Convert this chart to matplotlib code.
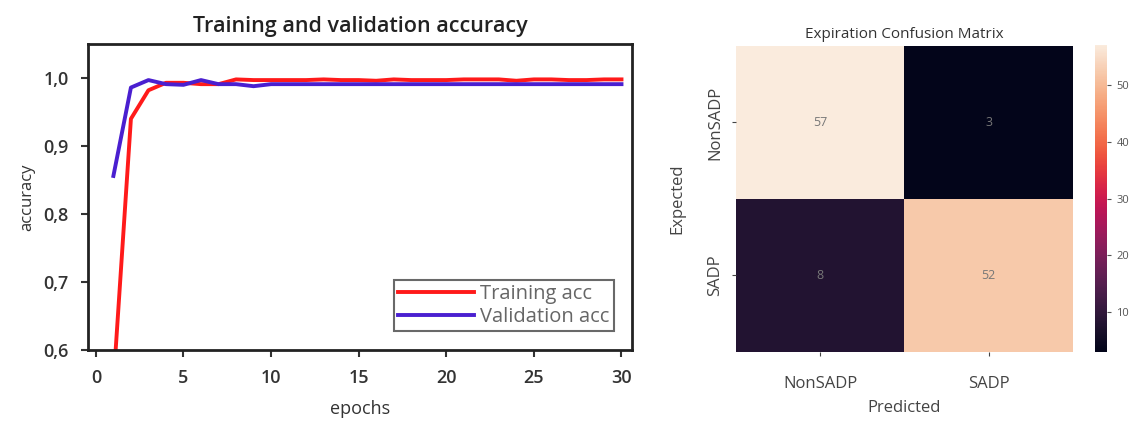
import numpy as np
import matplotlib
matplotlib.use("Agg")
import matplotlib.pyplot as plt
import seaborn as sns

# Datos del historial de entrenamiento
epochs = list(range(1, 31))
train_acc = [0.55, 0.940, 0.982, 0.993, 0.993, 0.991, 0.991, 0.998, 0.997, 0.997,
             0.997, 0.997, 0.998, 0.997, 0.997, 0.996, 0.998, 0.997, 0.997, 0.997,
             0.998, 0.998, 0.998, 0.996, 0.998, 0.998, 0.997, 0.997, 0.998, 0.998]
val_acc = [0.856, 0.986, 0.997, 0.991, 0.990, 0.997, 0.991, 0.991, 0.988, 0.991,
           0.991, 0.991, 0.991, 0.991, 0.991, 0.991, 0.991, 0.991, 0.991, 0.991,
           0.991, 0.991, 0.991, 0.991, 0.991, 0.991, 0.991, 0.991, 0.991, 0.991]

# Matriz de confusión
clases = ["NonSADP", "SADP"]
matriz = np.array([[57, 3],
                   [8, 52]])

fig = plt.figure(figsize=(11.31, 4.21), dpi=100)
plt.rcParams['font.family'] = ['Open Sans', 'DejaVu Sans']

# Curvas de precisión
ax1 = fig.add_axes([0.0778, 0.1686, 0.481, 0.7268])
ax1.plot(epochs, train_acc, color='#ff1a1a', lw=2.8, label='Training acc')
ax1.plot(epochs, val_acc, color='#4a1fd0', lw=2.8, label='Validation acc')
ax1.set_xlim(-0.45, 30.6)
ax1.set_ylim(0.6, 1.05)
ax1.set_xticks([0, 5, 10, 15, 20, 25, 30])
ax1.set_yticks([0.6, 0.7, 0.8, 0.9, 1.0])
ax1.set_yticklabels(['0,6', '0,7', '0,8', '0,9', '1,0'])
ax1.tick_params(labelsize=13, colors='#333333', width=1.5, length=5)
ax1.tick_params(axis='x', pad=9)
ax1.tick_params(axis='y', pad=9)
for lbl in ax1.get_xticklabels() + ax1.get_yticklabels():
    lbl.set_fontweight('semibold')
for s in ax1.spines.values():
    s.set_linewidth(2)
    s.set_color('#222222')
ax1.set_title('Training and validation accuracy', fontsize=15.5, fontweight='semibold',
              color='#222222', pad=9)
ax1.set_xlabel('epochs', fontsize=13, color='#333333', labelpad=9)
ax1.set_ylabel('accuracy', fontsize=12, color='#333333', labelpad=6)
leg = ax1.legend(loc='lower right', bbox_to_anchor=(0.985, 0.03), fontsize=14.5,
                 fancybox=False, edgecolor='#444444', handlelength=3.8,
                 borderpad=0.2, labelspacing=0.15, handletextpad=0.3)
leg.get_frame().set_linewidth(1.5)
for t in leg.get_texts():
    t.set_color('#666666')

# Mapa de calor
ax2 = fig.add_axes([0.6507, 0.164, 0.2980, 0.727])
cax = fig.add_axes([0.9682, 0.164, 0.0110, 0.729])
sns.heatmap(matriz, annot=True, fmt='d', ax=ax2, cbar_ax=cax, cmap='rocket',
            xticklabels=clases, yticklabels=clases,
            annot_kws={'fontsize': 9, 'color': '#777777'})
plt.rcParams['font.family'] = ['Open Sans', 'DejaVu Sans']
ax2.set_title('Expiration Confusion Matrix', fontsize=11, color='#333333', pad=6)
ax2.set_xlabel('Predicted', fontsize=12, color='#444444', labelpad=6)
ax2.set_ylabel('Expected', fontsize=12, color='#444444', labelpad=16)
ax2.tick_params(axis='x', labelsize=12, colors='#444444', length=3, pad=14)
ax2.tick_params(axis='y', labelsize=12, colors='#444444', length=3, rotation=90, pad=6)
for lbl in ax2.get_yticklabels():
    lbl.set_va('center')
cax.tick_params(labelsize=8, colors='#555555', length=3)
cax.set_yticks([10, 20, 30, 40, 50])

plt.savefig('out.png', dpi=100)
plt.close()
